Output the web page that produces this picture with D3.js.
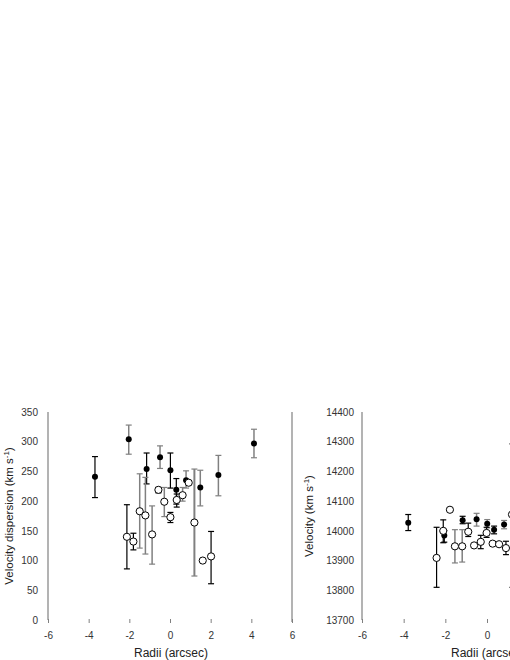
<!DOCTYPE html>
<html><head><meta charset="utf-8">
<script src="https://cdn.jsdelivr.net/npm/d3@7"></script>
<style>body{margin:0;background:#fff}svg{display:block}text{font-family:"Liberation Sans",Arial,sans-serif}</style>
</head><body><div id="chart"></div>
<script>
// ---- data ----
const xTicks = [-6, -4, -2, 0, 2, 4, 6];
const dispTicks = [0, 50, 100, 150, 200, 250, 300, 350];
const velTicks = [13700, 13800, 13900, 14000, 14100, 14200, 14300, 14400];

// Left panel: velocity dispersion, filled symbols
const dispFilledX  = [-3.69, -2.03, -1.15, -0.49, 0.02, 0.31, 0.79, 1.49, 2.38, 4.13];
const dispFilledY  = [241, 304, 254, 274, 252, 219, 235, 223, 244, 297];
const dispFilledLo = [206, 279, 229, 255, 222, 195, 222, 192, 209, 273];
const dispFilledHi = [275, 328, 281, 293, 281, 238, 251, 252, 277, 321];
const dispFilledSet = [1, 2, 1, 2, 1, 1, 2, 2, 2, 2];

// Left panel: velocity dispersion, open symbols
const dispOpenX  = [-2.12, -1.80, -1.49, -1.21, -0.88, -0.57, -0.28, 0.02, 0.33, 0.62, 0.92, 1.20, 1.61, 2.02];
const dispOpenY  = [140, 132, 183, 176, 144, 219, 199, 173, 202, 210, 231, 164, 100, 107];
const dispOpenLo = [86, 118, 121, 111, 94, 214, 174, 164, 190, 200, 231, 74, 100, 61];
const dispOpenHi = [194, 146, 246, 240, 192, 223, 223, 181, 212, 223, 231, 254, 100, 149];
const dispOpenSet = [1, 1, 2, 2, 2, 1, 2, 1, 1, 2, 1, 3, 1, 1];

// Right panel: velocity, filled symbols
const velFilledX  = [-3.78, -2.05, -1.17, -0.50, 0.01, 0.34, 0.82];
const velFilledY  = [14027, 13984, 14036, 14039, 14024, 14004, 14021];
const velFilledLo = [14001, 13962, 14024, 14016, 14010, 13990, 14007];
const velFilledHi = [14055, 14001, 14049, 14059, 14038, 14016, 14035];
const velFilledSet = [1, 1, 1, 2, 2, 1, 2];

// Right panel: velocity, open symbols
const velOpenX  = [-2.42, -2.10, -1.78, -1.54, -1.19, -0.90, -0.62, -0.30, -0.02, 0.27, 0.58, 0.91, 1.20];
const velOpenY  = [13909, 14000, 14071, 13948, 13948, 13997, 13951, 13963, 13993, 13957, 13955, 13942, 14055];
const velOpenLo = [13810, 13960, 14071, 13892, 13895, 13981, 13951, 13940, 13978, 13957, 13955, 13920, 13810];
const velOpenHi = [14012, 14037, 14071, 14004, 14004, 14026, 13951, 13985, 14012, 13957, 13955, 13965, 14293];
const velOpenSet = [1, 1, 1, 2, 2, 1, 1, 1, 1, 1, 1, 1, 3];

// ---- drawing ----
const W = 510, H = 660;
const svg = d3.select("#chart").append("svg").attr("width", W).attr("height", H);
const barColor = s => s === 1 ? "#000" : "#808080";
const barWidth = s => s === 3 ? 2 : (s === 2 ? 1.5 : 1.2);

function pack(xs, ys, lo, hi, set) {
  return xs.map((x, i) => ({x, y: ys[i], lo: lo[i], hi: hi[i], set: set[i]}));
}

function panel(cfg) {
  const g = svg.append("g");
  const x = d3.scaleLinear().domain([-6, 6]).range(cfg.xRange);
  const y = d3.scaleLinear().domain(cfg.yDomain).range([620, 412]);

  // y axis line
  g.append("line").attr("x1", x(-6)).attr("x2", x(-6)).attr("y1", 412).attr("y2", 620)
    .attr("stroke", "#808080").attr("stroke-width", 1.2);
  // right frame line
  g.append("line").attr("x1", x(6)).attr("x2", x(6)).attr("y1", 412).attr("y2", 622)
    .attr("stroke", "#808080").attr("stroke-width", 1.2);

  // y tick labels
  const ya = d3.axisLeft(y).tickValues(cfg.yTicks).tickSize(0).tickPadding(0).tickFormat(d => String(d));
  const yg = g.append("g").attr("transform", `translate(${cfg.yLabelX},0)`).call(ya);
  yg.select(".domain").remove();
  yg.selectAll("text").attr("font-size", 10).attr("fill", "#333")
    .attr("font-family", "'Liberation Sans', Arial, sans-serif");

  // x ticks + labels
  const xa = d3.axisBottom(x).tickValues(xTicks).tickSize(4).tickPadding(9).tickFormat(d => String(d));
  const xg = g.append("g").attr("transform", "translate(0,619)").call(xa);
  xg.select(".domain").remove();
  xg.selectAll("line").attr("stroke", "#808080");
  xg.selectAll("text").attr("font-size", 10).attr("fill", "#333")
    .attr("font-family", "'Liberation Sans', Arial, sans-serif");

  // axis titles
  g.append("text").attr("x", x(0) + 1).attr("y", 657).attr("text-anchor", "middle")
    .attr("font-size", 12).attr("fill", "#222").text("Radii (arcsec)");
  const yt = g.append("text").attr("transform", `translate(${cfg.titleX},516) rotate(-90)`)
    .attr("text-anchor", "middle").attr("font-size", 11.5).attr("fill", "#222");
  yt.append("tspan").text(cfg.title + " (km s");
  yt.append("tspan").attr("dy", -4).attr("font-size", 8).text("-1");
  yt.append("tspan").attr("dy", 4).text(")");

  const all = cfg.filled.concat(cfg.open);
  // error bars
  const eb = g.append("g");
  all.filter(d => d.hi > d.lo).forEach(d => {
    const c = barColor(d.set), w = barWidth(d.set);
    eb.append("line").attr("x1", x(d.x)).attr("x2", x(d.x)).attr("y1", y(d.hi)).attr("y2", y(d.lo))
      .attr("stroke", c).attr("stroke-width", w);
    [d.hi, d.lo].forEach(v => {
      eb.append("line").attr("x1", x(d.x) - 3).attr("x2", x(d.x) + 3).attr("y1", y(v)).attr("y2", y(v))
        .attr("stroke", c).attr("stroke-width", 1.2);
    });
  });
  // filled points
  g.append("g").selectAll("circle").data(cfg.filled).join("circle")
    .attr("cx", d => x(d.x)).attr("cy", d => y(d.y)).attr("r", 3).attr("fill", "#000");
  // open points
  g.append("g").selectAll("circle").data(cfg.open).join("circle")
    .attr("cx", d => x(d.x)).attr("cy", d => y(d.y)).attr("r", 3.6)
    .attr("fill", "#fff").attr("stroke", "#000").attr("stroke-width", 1);
}

panel({
  xRange: [48, 292], yDomain: [0, 350], yTicks: dispTicks, yLabelX: 38, titleX: 13,
  title: "Velocity dispersion",
  filled: pack(dispFilledX, dispFilledY, dispFilledLo, dispFilledHi, dispFilledSet),
  open: pack(dispOpenX, dispOpenY, dispOpenLo, dispOpenHi, dispOpenSet)
});
panel({
  xRange: [362, 612], yDomain: [13700, 14400], yTicks: velTicks, yLabelX: 354, titleX: 313,
  title: "Velocity",
  filled: pack(velFilledX, velFilledY, velFilledLo, velFilledHi, velFilledSet),
  open: pack(velOpenX, velOpenY, velOpenLo, velOpenHi, velOpenSet)
});
</script></body></html>
